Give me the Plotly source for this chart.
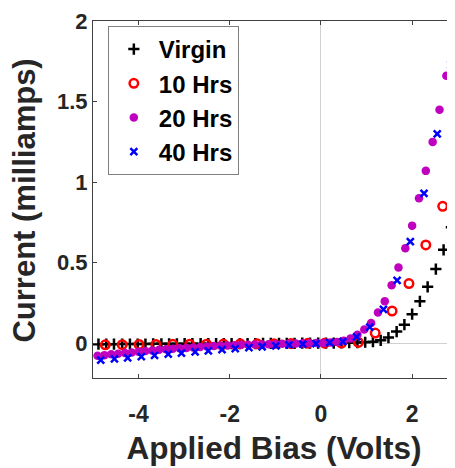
import plotly.graph_objects as go

# ---- data ----
virgin_v = [-4.88, -4.71, -4.54, -4.36, -4.19, -4.02, -3.85, -3.68, -3.50, -3.33,
            -3.16, -2.99, -2.82, -2.64, -2.47, -2.30, -2.13, -1.96, -1.78, -1.61,
            -1.44, -1.27, -1.10, -0.92, -0.75, -0.58, -0.41, -0.24, -0.06, 0.11,
            0.28, 0.45, 0.62, 0.80, 0.97, 1.14, 1.31, 1.48, 1.66, 1.83,
            2.00, 2.17, 2.34, 2.52, 2.69, 2.86]
virgin_i = [-0.006, -0.006, -0.006, -0.005, -0.005, -0.005, -0.005, -0.004, -0.004, -0.004,
            -0.004, -0.003, -0.003, -0.003, -0.003, -0.003, -0.002, -0.002, -0.002, -0.002,
            -0.002, -0.001, -0.001, -0.001, -0.001, -0.001, 0.000, 0.000, 0.000, 0.000,
            0.001, 0.002, 0.003, 0.004, 0.006, 0.009, 0.018, 0.035, 0.072, 0.115,
            0.18, 0.26, 0.35, 0.46, 0.58, 0.72]

hrs10_v = [-4.73, -4.36, -3.99, -3.62, -3.25, -2.88, -2.51, -2.14, -1.77, -1.40,
           -1.03, -0.66, -0.29, 0.08, 0.45, 0.82, 1.19, 1.56, 1.93, 2.30, 2.67]
hrs10_i = [-0.010, -0.009, -0.008, -0.008, -0.007, -0.006, -0.006, -0.005, -0.004, -0.004,
           -0.003, -0.002, -0.001, 0.000, 0.001, 0.005, 0.063, 0.20, 0.37, 0.61, 0.85]

hrs20_v = [-4.90, -4.75, -4.60, -4.45, -4.30, -4.15, -4.00, -3.85, -3.70, -3.55,
           -3.40, -3.25, -3.10, -2.95, -2.80, -2.65, -2.50, -2.35, -2.20, -2.05,
           -1.90, -1.75, -1.60, -1.45, -1.30, -1.15, -1.00, -0.85, -0.70, -0.55,
           -0.40, -0.25, -0.10, 0.05, 0.20, 0.35, 0.50, 0.65, 0.80, 0.95,
           1.10, 1.25, 1.40, 1.55, 1.70, 1.85, 2.00, 2.15, 2.30, 2.45,
           2.60, 2.75, 2.90]
hrs20_i = [-0.078, -0.074, -0.069, -0.065, -0.061, -0.057, -0.053, -0.049, -0.045, -0.041,
           -0.038, -0.035, -0.032, -0.029, -0.026, -0.023, -0.020, -0.018, -0.016, -0.014,
           -0.012, -0.010, -0.009, -0.008, -0.007, -0.006, -0.005, -0.004, -0.003, -0.002,
           -0.001, 0.000, 0.001, 0.002, 0.004, 0.008, 0.016, 0.030, 0.053, 0.085,
           0.125, 0.19, 0.26, 0.36, 0.47, 0.59, 0.73, 0.90, 1.07, 1.25,
           1.45, 1.66, 1.88]

hrs40_v = [-4.83, -4.53, -4.24, -3.94, -3.65, -3.35, -3.06, -2.76, -2.47, -2.17,
           -1.88, -1.58, -1.29, -0.99, -0.70, -0.40, -0.11, 0.19, 0.48, 0.78,
           1.07, 1.37, 1.67, 1.96, 2.26, 2.55, 2.85]
hrs40_i = [-0.105, -0.098, -0.091, -0.083, -0.076, -0.068, -0.061, -0.054, -0.047, -0.040,
           -0.034, -0.028, -0.022, -0.016, -0.011, -0.006, -0.002, 0.003, 0.010, 0.040,
           0.10, 0.21, 0.39, 0.63, 0.93, 1.30, 1.73]

series_names = ["Virgin", "10 Hrs", "20 Hrs", "40 Hrs"]
x_tick_vals = [-4, -2, 0, 2]
x_tick_text = ["-4", "-2", "0", "2"]
y_tick_vals = [0, 0.5, 1, 1.5, 2]
y_tick_text = ["0", "0.5", "1", "1.5", "2"]
x_title = "Applied Bias (Volts)"
y_title = "Current (milliamps)"

FONT = "Liberation Sans, Arial, sans-serif"
AXC = "#262626"

fig = go.Figure()
fig.add_trace(go.Scatter(x=virgin_v, y=virgin_i, mode="markers", name=series_names[0],
                         marker=dict(symbol="cross-thin-open", size=8, color="#000000",
                                     line=dict(width=2.5, color="#000000"))))
fig.add_trace(go.Scatter(x=hrs10_v, y=hrs10_i, mode="markers", name=series_names[1],
                         marker=dict(symbol="circle-open", size=8.5, color="#FF0000",
                                     line=dict(width=2.5, color="#FF0000"))))
fig.add_trace(go.Scatter(x=hrs20_v, y=hrs20_i, mode="markers", name=series_names[2],
                         marker=dict(symbol="circle", size=8.5, color="#BF00BF",
                                     line=dict(width=0))))
fig.add_trace(go.Scatter(x=hrs40_v, y=hrs40_i, mode="markers", name=series_names[3],
                         marker=dict(symbol="x-thin-open", size=7, color="#0000FF",
                                     line=dict(width=2.5, color="#0000FF"))))

fig.update_layout(
    width=447, height=460,
    margin=dict(l=85, r=0, t=13, b=90, autoexpand=False),
    paper_bgcolor="white", plot_bgcolor="white",
    font=dict(family=FONT, color=AXC),
    showlegend=True,
    legend=dict(x=0.041, y=0.986, xanchor="left", yanchor="top",
                bgcolor="white", bordercolor="#808080", borderwidth=1,
                font=dict(family=FONT, size=24, color="#000000", weight="bold"),
                itemwidth=40, tracegroupgap=0),
    xaxis=dict(range=[-5, 2.94], tickvals=x_tick_vals, ticktext=x_tick_text,
               automargin=False,
               showgrid=False, zeroline=True, zerolinecolor="#d0d0d0", zerolinewidth=1,
               showline=True, linecolor="#404040", linewidth=1, mirror="ticks",
               ticks="inside", ticklen=4, tickcolor="#404040", ticklabelstandoff=15,
               tickfont=dict(family=FONT, size=23, color=AXC, weight="bold"),
               title=dict(text=x_title, standoff=11,
                          font=dict(family=FONT, size=31.5, color=AXC, weight="bold"))),
    yaxis=dict(range=[-0.216, 2.0005], tickvals=y_tick_vals, ticktext=y_tick_text,
               automargin=False, ticklabeloverflow="allow",
               showgrid=False, zeroline=True, zerolinecolor="#d0d0d0", zerolinewidth=1,
               showline=True, linecolor="#404040", linewidth=1, mirror=False,
               ticks="inside", ticklen=4, tickcolor="#404040", ticklabelstandoff=0,
               tickfont=dict(family=FONT, size=22, color=AXC, weight="bold")),
    annotations=[dict(text=y_title, textangle=-90, xref="paper", yref="paper",
                      x=-0.188, y=0.497, xanchor="center", yanchor="middle",
                      showarrow=False,
                      font=dict(family=FONT, size=31, color=AXC, weight="bold"))],
)

fig.write_html("out.html")
